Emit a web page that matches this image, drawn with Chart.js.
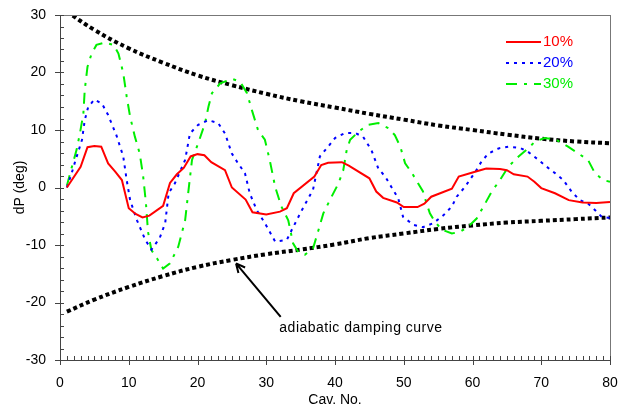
<!DOCTYPE html>
<html>
<head>
<meta charset="utf-8">
<script src="https://cdn.jsdelivr.net/npm/chart.js@4.4.1/dist/chart.umd.min.js"></script>
<style>
  html, body { margin: 0; padding: 0; background: #fff; }
  #wrap { width: 625px; height: 409px; }
</style>
</head>
<body>
<div id="wrap"><canvas id="myChart"></canvas></div>
<script>
// 10% case
const x10 = [1, 3, 4, 5, 6, 7, 8, 9, 10, 11, 12, 13, 15, 16, 17, 18, 19, 20, 21, 22, 24, 25, 27, 28, 30, 32, 33, 34, 37, 38,
  39, 41, 42, 45, 46, 47, 49, 50, 52, 53, 54, 57, 58, 60, 62, 64, 65, 66, 68, 69, 70, 72, 74, 76, 78, 80];
const y10 = [0, 3.6, 7.0, 7.2, 7.1, 4.2, 2.8, 1.3, -3.6, -4.6, -5.2, -4.9, -3.2, 0.8, 2.3, 3.4, 5.4, 5.8, 5.6, 4.4, 3.0, 0, -2.1, -4.3, -4.7, -4.2, -3.6, -1.0, 1.9, 3.9,
  4.3, 4.4, 3.8, 1.6, -0.7, -1.8, -2.6, -3.4, -3.4, -2.8, -1.6, -0.2, 1.9, 2.6, 3.3, 3.2, 3.0, 2.3, 1.9, 1.0, -0.1, -1.0, -2.2, -2.6, -2.7, -2.5];

// 20% case
const x20 = [1, 1.7, 2.2, 3.2, 3.6, 4.1, 5, 6.1, 7, 8.2, 9.2, 9.7, 10.2, 11.2, 12.4, 13.3, 14.5, 15.3, 15.8, 16.7,
  18.2, 18.9, 20.1, 21.6, 23, 24, 25, 25.9, 26.9, 27.6, 28.6, 29.8, 31.3, 33, 33.7, 35.2, 36.8, 37.8, 39, 40,
  41.5, 42.9, 44.1, 45.3, 46.3, 47.3, 48.2, 49.2, 49.9, 51.4, 52.8, 54.3, 55.8, 57, 57.7, 58.9, 60.4, 61.3, 62.3, 63.8,
  65.2, 66.9, 68.1, 69.6, 70.8, 72, 73.2, 74.4, 75.6, 76.8, 77.8, 78.8, 80];
const y20 = [0, 2.5, 4.5, 8.3, 11.7, 14, 15.3, 14.6, 12.6, 9.1, 5.4, 1.3, -2.2, -5.7, -9.1, -10.8, -8.8, -6.2, -1.0, 0.7,
  4.8, 9.4, 10.9, 11.7, 11.2, 9.4, 5.9, 4.2, 2.5, -1.0, -3.9, -6.2, -9.4, -9.1, -7.4, -3.9, -0.4, 5.4, 7.1, 8.6,
  9.5, 9.5, 8.8, 6.5, 3.3, 1.9, 0.1, -1.9, -5.1, -6.5, -6.9, -6.2, -4.8, -3.3, -1.6, 0.1, 2.7, 4.5, 5.9, 6.8,
  7.1, 6.9, 6.2, 4.8, 3.6, 2.5, 1.3, -0.7, -2.2, -2.8, -3.9, -5.1, -5.3];

// 30% case
const x30 = [1, 1.5, 2.4, 2.9, 3.4, 3.6, 4, 4.6, 5.3, 6.5, 7.8, 8.5, 9.2, 9.7, 10.2, 10.9, 11.6, 12.1, 12.5, 12.8,
  13.3, 14.1, 15, 16, 17.2, 18.2, 18.7, 19.2, 20.1, 21.1, 21.6, 22.1, 23.3, 25, 26.2, 27.2, 27.9, 28.8, 29.8, 30.5,
  31.3, 32.2, 33.2, 33.9, 34.7, 35.6, 36.8, 37.6, 38.3, 39.5, 40.5, 41.2, 41.7, 42.2, 43.4, 44.8, 46.3, 47.8, 48.7, 49.5,
  50.2, 51.2, 52.1, 52.8, 53.3, 53.8, 54.5, 55.5, 57, 58.2, 59.4, 60.6, 61.6, 62.8, 64, 65.2, 66.7, 68.1, 69.1, 70.5,
  72, 73.9, 75.4, 76.8, 77.8, 79, 80];
const y30 = [0.3, 2.6, 6.5, 9.4, 12.9, 17, 21, 23.3, 24.8, 25.2, 24.8, 23.3, 19.9, 15.8, 12.3, 8.8, 5.9, 1.9, -2.7, -7.7,
  -10.9, -12.3, -14.1, -13.2, -10.3, -5.7, -0.4, 4.8, 7.7, 11.2, 14.1, 16.4, 18.1, 18.9, 18.4, 16.4, 13.5, 10, 8.3, 4.8,
  0.1, -3.3, -5.7, -9.7, -11.3, -11.7, -10.6, -7.4, -4.5, -1.6, 0.7, 3.0, 6.5, 8.3, 9.7, 10.9, 11.2, 10.3, 9.1, 7.1,
  4.2, 2.5, 0.7, -0.7, -2.7, -4.5, -5.9, -7.3, -8.0, -7.7, -6.8, -5.4, -3.3, -0.7, 1.3, 3.6, 5.4, 6.8, 8.0, 8.6,
  8.4, 7.1, 5.9, 4.8, 2.5, 1.3, 1.0];

// adiabatic damping envelope
const xDamp = [1, 5, 10, 15, 20, 25, 30, 35, 40, 45, 50, 55, 60, 65, 70, 75, 80];
const yDampUp = [30.6, 27.4, 24.2, 21.7, 19.5, 17.8, 16.3, 15.0, 13.9, 12.8, 11.8, 10.8, 10.0, 9.2, 8.5, 8.0, 7.7];
const yDampLow = [-21.6, -19.5, -17.3, -15.4, -13.8, -12.6, -11.6, -10.8, -9.9, -8.8, -8.0, -7.2, -6.6, -6.1, -5.8, -5.5, -5.2];

const xTicks = [0, 10, 20, 30, 40, 50, 60, 70, 80];
const yTicks = [-30, -20, -10, 0, 10, 20, 30];

const seriesNames = ['10%', '20%', '30%'];
const FONT = 'Liberation Sans, Arial, sans-serif';

function pts(xs, ys) {
  return xs.map((x, i) => ({ x: x, y: ys[i] }));
}

// frame, tick marks, legend and the arrow note
const decorPlugin = {
  id: 'decor',
  afterDraw(chart) {
    const ctx = chart.ctx;
    const a = chart.chartArea;
    const xs = chart.scales.x;
    const ys = chart.scales.y;
    const L = Math.round(a.left), R = Math.round(a.right), T = Math.round(a.top), B = Math.round(a.bottom);
    ctx.save();
    ctx.setLineDash([]);

    // plot frame (1px rectangles)
    ctx.fillStyle = '#777';
    ctx.fillRect(L, T, R - L + 1, 1);
    ctx.fillRect(R, T, 1, B - T + 1);
    ctx.fillStyle = '#444';
    ctx.fillRect(L, T, 1, B - T + 1);
    ctx.fillRect(L, B, R - L + 1, 1);

    // tick marks: minor inside, major crossing the axis
    for (let v = 0; v <= 80; v++) {
      const px = Math.round(xs.getPixelForValue(v));
      const down = v % 10 === 0 ? 5 : 0;
      ctx.fillRect(px, B - 4, 1, 4 + down);
    }
    for (let v = -30; v <= 30; v += 2) {
      const py = Math.round(ys.getPixelForValue(v));
      const out = v % 10 === 0 ? 5 : 0;
      ctx.fillRect(L - out, py, 4 + out, 1);
    }

    // legend
    const ds = chart.data.datasets;
    ctx.font = '15px ' + FONT;
    ctx.textBaseline = 'middle';
    ctx.textAlign = 'left';
    for (let i = 0; i < 3; i++) {
      const y = 42 + i * 21;
      ctx.strokeStyle = ds[i].borderColor;
      ctx.lineWidth = 2;
      ctx.setLineDash(ds[i].borderDash || []);
      ctx.beginPath();
      ctx.moveTo(506, y);
      ctx.lineTo(541, y);
      ctx.stroke();
      ctx.setLineDash([]);
      ctx.fillStyle = ds[i].borderColor;
      ctx.fillText(seriesNames[i], 543, y);
    }

    // note with arrow
    const tipX = xs.getPixelForValue(25.6), tipY = ys.getPixelForValue(-13.2);
    const tailX = xs.getPixelForValue(32.1), tailY = ys.getPixelForValue(-22.5);
    ctx.strokeStyle = '#000';
    ctx.lineWidth = 2;
    ctx.beginPath();
    ctx.moveTo(tailX, tailY);
    ctx.lineTo(tipX, tipY);
    const ang = Math.atan2(tipY - tailY, tipX - tailX);
    for (const d of [0.45, -0.45]) {
      ctx.moveTo(tipX, tipY);
      ctx.lineTo(tipX - 10 * Math.cos(ang + d), tipY - 10 * Math.sin(ang + d));
    }
    ctx.stroke();
    ctx.fillStyle = '#000';
    ctx.font = '14px ' + FONT;
    ctx.letterSpacing = '0.5px';
    ctx.fillText('adiabatic damping curve', xs.getPixelForValue(31.9), ys.getPixelForValue(-24.4));
    ctx.restore();
  }
};

function makeChart() {
  const ctx = document.getElementById('myChart');
  const myChart = new Chart(ctx, {
    type: 'line',
    data: {
      datasets: [
        { label: '10%', data: pts(x10, y10), borderColor: '#ff0000', borderWidth: 2 },
        { label: '20%', data: pts(x20, y20), borderColor: '#0000ff', borderWidth: 2, borderDash: [3, 5] },
        { label: '30%', data: pts(x30, y30), borderColor: '#00ee00', borderWidth: 2, borderDash: [11, 7, 3, 7] },
        { label: 'up', data: pts(xDamp, yDampUp), borderColor: '#000', borderWidth: 4, borderDash: [4, 3], tension: 0.4 },
        { label: 'low', data: pts(xDamp, yDampLow), borderColor: '#000', borderWidth: 4, borderDash: [4, 3], tension: 0.4 }
      ]
    },
    options: {
      responsive: true,
      maintainAspectRatio: false,
      animation: false,
      layout: { padding: { top: 15, right: 15, left: 0, bottom: 0 } },
      elements: { point: { radius: 0 }, line: { fill: false, borderCapStyle: 'butt' } },
      plugins: { legend: { display: false }, tooltip: { enabled: false } },
      scales: {
        x: {
          type: 'linear',
          min: 0,
          max: 80,
          afterFit: s => { s.height = 49; s.paddingLeft = 0; s.paddingRight = 0; },
          afterBuildTicks: s => { s.ticks = xTicks.map(v => ({ value: v })); },
          grid: { display: false },
          border: { display: false },
          ticks: { color: '#000', font: { family: FONT, size: 14 }, padding: 7, maxRotation: 0 },
          title: { display: true, text: 'Cav. No.', color: '#000', font: { family: FONT, size: 14 }, padding: { top: 0, bottom: 0 } }
        },
        y: {
          min: -30,
          max: 30,
          afterFit: s => { s.width = 60; s.paddingTop = 0; s.paddingBottom = 0; },
          afterBuildTicks: s => { s.ticks = yTicks.map(v => ({ value: v })); },
          grid: { display: false },
          border: { display: false },
          ticks: { color: '#000', font: { family: FONT, size: 14 }, padding: 6 },
          title: { display: true, text: 'dP (deg)', color: '#000', font: { family: FONT, size: 14 }, padding: { top: 12, bottom: 0 } }
        }
      }
    },
    plugins: [decorPlugin]
  });
  return myChart;
}

document.addEventListener('DOMContentLoaded', function() {
  makeChart();
});
</script>
</body>
</html>
